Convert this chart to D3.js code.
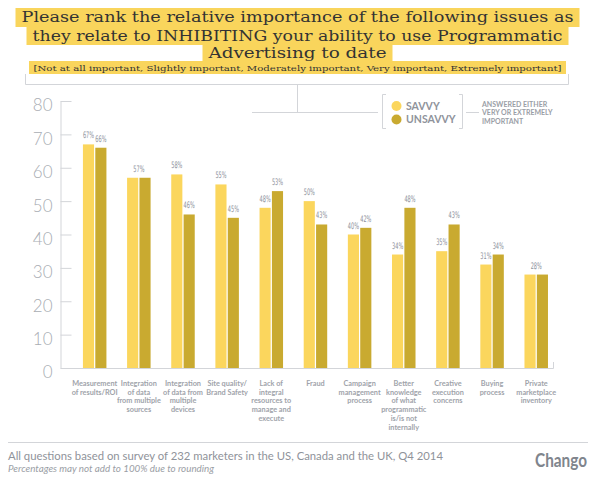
<!DOCTYPE html>
<html>
<head>
<meta charset="utf-8">
<script src="https://cdn.jsdelivr.net/npm/d3@7/dist/d3.min.js"></script>
<style>
  html, body { margin: 0; padding: 0; background: #fff; }
  svg { display: block; }
</style>
</head>
<body>
<svg id="chart" width="595" height="482"></svg>
<script>
// ---------------- DATA ----------------
const categories = [
  "Measurement of results/ROI",
  "Integration of data from multiple sources",
  "Integration of data from multiple devices",
  "Site quality/ Brand Safety",
  "Lack of integral resources to manage and execute",
  "Fraud",
  "Campaign management process",
  "Better knowledge of what programmatic is/is not internally",
  "Creative execution concerns",
  "Buying process",
  "Private marketplace inventory"
];
const categoryLines = [
  ["Measurement", "of results/ROI"],
  ["Integration", "of data", "from multiple", "sources"],
  ["Integration", "of data from", "multiple", "devices"],
  ["Site quality/", "Brand Safety"],
  ["Lack of", "integral", "resources to", "manage and", "execute"],
  ["Fraud"],
  ["Campaign", "management", "process"],
  ["Better", "knowledge", "of what", "programmatic", "is/is not", "internally"],
  ["Creative", "execution", "concerns"],
  ["Buying", "process"],
  ["Private", "marketplace", "inventory"]
];
const seriesNames = ["SAVVY", "UNSAVVY"];
const savvyValues   = [67, 57, 58, 55, 48, 50, 40, 34, 35, 31, 28];
const unsavvyValues = [66, 57, 46, 45, 53, 43, 42, 48, 43, 34, 28];
const yTicks = [0, 10, 20, 30, 40, 50, 60, 70, 80];
const titleLines = [
  "Please rank the relative importance of the following issues as",
  "they relate to INHIBITING your ability to use Programmatic",
  "Advertising to date"
];
const subtitleText = "[Not at all important, Slightly important, Moderately important, Very important, Extremely important]";
const legendNote = ["ANSWERED EITHER", "VERY OR EXTREMELY", "IMPORTANT"];
const footerText = "All questions based on survey of 232 marketers in the US, Canada and the UK, Q4 2014";
const footerNote = "Percentages may not add to 100% due to rounding";
const brand = "Chango";

// ---------------- STYLE ----------------
const colors = { SAVVY: "#fbd65d", UNSAVVY: "#c9aa30" };
const highlight = "#f9d55c";
const lineGray = "#d3d5d9";
const textGray = "#9a9ea6";
const sansFont = "Lato, 'Open Sans', 'DejaVu Sans', sans-serif";
const slabFont = "'DejaVu Serif', 'Liberation Serif', serif";

const svg = d3.select("#chart");

// ---------------- TITLE ----------------
const titleY = [22, 40.5, 58];
const titleWidths = [552, 530, 178];
const titleTops = [8, 27, 45];
const titleHeights = [19, 18, 16];
titleLines.forEach((t, i) => {
  const g = svg.append("g");
  const w = titleWidths[i] + 12;
  g.append("rect").attr("fill", highlight)
    .attr("x", 297.5 - w / 2).attr("y", titleTops[i]).attr("width", w).attr("height", titleHeights[i]);
  g.append("text")
    .attr("x", 297.5).attr("y", titleY[i])
    .attr("text-anchor", "middle")
    .attr("font-family", slabFont)
    .attr("font-size", 15)
    .attr("fill", "#333333")
    .attr("textLength", titleWidths[i])
    .attr("lengthAdjust", "spacingAndGlyphs")
    .text(t);
});
{
  const g = svg.append("g");
  g.append("rect").attr("fill", highlight)
    .attr("x", 29).attr("y", 61).attr("width", 537).attr("height", 13);
  g.append("text")
    .attr("x", 297.5).attr("y", 70.5)
    .attr("text-anchor", "middle")
    .attr("font-family", slabFont)
    .attr("font-size", 8.2)
    .attr("fill", "#333333")
    .attr("textLength", 528)
    .attr("lengthAdjust", "spacingAndGlyphs")
    .text(subtitleText);
}

// frame bracket under header & connector to legend
svg.append("path")
  .attr("d", "M25.5,74 V84.5 H568.5 V74")
  .attr("fill", "none").attr("stroke", lineGray).attr("stroke-width", 1);
svg.append("path")
  .attr("d", "M297.5,84.5 V112.5 M252,112.5 H378")
  .attr("fill", "none").attr("stroke", lineGray).attr("stroke-width", 1);

// ---------------- LEGEND ----------------
svg.append("path")
  .attr("d", "M386,94.5 H382.5 V128.5 H386 M459,94.5 H462.5 V128.5 H459 M466,112.5 H479")
  .attr("fill", "none").attr("stroke", lineGray).attr("stroke-width", 1);
const legendY = [106, 119.5];
seriesNames.forEach((s, i) => {
  svg.append("circle").attr("cx", 396.5).attr("cy", legendY[i]).attr("r", 5).attr("fill", colors[s]);
  svg.append("text").attr("x", 406).attr("y", legendY[i] + 3.8)
    .attr("font-family", sansFont).attr("font-weight", 700).attr("font-size", 10.5)
    .attr("fill", "#8f939b").text(s);
});
legendNote.forEach((t, i) => {
  svg.append("text").attr("x", 482).attr("y", 106.5 + i * 8.7)
    .attr("font-family", sansFont).attr("font-weight", 700).attr("font-size", 7)
    .attr("fill", textGray).text(t);
});

// ---------------- SCALES ----------------
const y = d3.scaleLinear().domain([0, 80]).range([368, 101]);
const x0 = d3.scaleBand().domain(categories).range([72.6, 558.3]).padding(0);
const innerW = 23.5;
const x1 = d3.scaleBand().domain(seriesNames).range([0, innerW]).paddingInner(0.1);
const groupOffset = (x0.bandwidth() - innerW) / 2;

// ---------------- AXIS ----------------
const yAxis = d3.axisLeft(y).tickValues(yTicks).tickSize(-11).tickSizeOuter(0).tickPadding(8);
const ag = svg.append("g").attr("transform", "translate(60.5,0)").call(yAxis);
ag.select(".domain").attr("stroke", lineGray);
ag.selectAll(".tick line").attr("stroke", lineGray);
ag.selectAll(".tick").filter(d => d === 0).select("line").remove();
ag.selectAll(".tick text")
  .attr("font-family", sansFont).attr("font-weight", 300).attr("font-size", 17)
  .attr("fill", "#a9adb3").attr("dy", "0.58em");

// baseline
svg.append("path")
  .attr("d", `M60.5,${y(0) + 0.5} H553.5 V${y(0) - 6}`)
  .attr("fill", "none").attr("stroke", lineGray).attr("stroke-width", 1);

// ---------------- BARS ----------------
const data = categories.map((c, i) => ({
  cat: c,
  values: [
    { key: "SAVVY", v: savvyValues[i] },
    { key: "UNSAVVY", v: unsavvyValues[i] }
  ]
}));

const groups = svg.append("g").selectAll("g").data(data).join("g")
  .attr("transform", d => `translate(${x0(d.cat) + groupOffset},0)`);

groups.selectAll("rect").data(d => d.values).join("rect")
  .attr("x", d => x1(d.key))
  .attr("y", d => y(d.v))
  .attr("width", x1.bandwidth())
  .attr("height", d => y(0) - y(d.v))
  .attr("fill", d => colors[d.key]);

// value labels (condensed by horizontal scaling)
const labelFont = "'DejaVu Sans Condensed', 'DejaVu Sans', sans-serif";
groups.each(function (d) {
  const g = d3.select(this);
  const [a, b] = d.values;
  const lab = (xc, v) => g.append("text")
    .attr("transform", `translate(${xc},${y(v) - 6}) scale(0.62,1)`)
    .attr("text-anchor", "middle")
    .attr("font-family", labelFont).attr("font-size", 9)
    .attr("fill", "#8d919b")
    .text(v + "%");
  if (a.v === b.v) {
    lab(innerW / 2, a.v);
  } else {
    lab(x1(a.key) + x1.bandwidth() / 2, a.v);
    lab(x1(b.key) + x1.bandwidth() / 2, b.v);
  }
});

// category labels
const cg = svg.append("g").selectAll("text").data(categories).join("text")
  .attr("x", d => x0(d) + x0.bandwidth() / 2)
  .attr("y", 386)
  .attr("text-anchor", "middle")
  .attr("font-family", sansFont).attr("font-weight", 700).attr("font-size", 7.3)
  .attr("fill", "#a0a3aa");
cg.each(function (d, i) {
  d3.select(this).selectAll("tspan").data(categoryLines[i]).join("tspan")
    .attr("x", x0(d) + x0.bandwidth() / 2)
    .attr("dy", (t, j) => j === 0 ? 0 : 8.7)
    .text(t => t);
});

// ---------------- FOOTER ----------------
svg.append("line").attr("x1", 8).attr("x2", 588).attr("y1", 442.5).attr("y2", 442.5)
  .attr("stroke", lineGray).attr("stroke-width", 1);
svg.append("text").attr("x", 8).attr("y", 460)
  .attr("font-family", sansFont).attr("font-size", 12)
  .attr("fill", "#8f939a")
  .attr("textLength", 435).attr("lengthAdjust", "spacingAndGlyphs")
  .text(footerText);
svg.append("text").attr("x", 8).attr("y", 472)
  .attr("font-family", sansFont).attr("font-style", "italic").attr("font-size", 9)
  .attr("fill", "#9a9ea5")
  .attr("textLength", 206).attr("lengthAdjust", "spacingAndGlyphs")
  .text(footerNote);
svg.append("text").attr("x", 587).attr("y", 467)
  .attr("text-anchor", "end")
  .attr("font-family", sansFont).attr("font-weight", 700).attr("font-size", 18)
  .attr("fill", "#80858d")
  .attr("textLength", 52).attr("lengthAdjust", "spacingAndGlyphs")
  .text(brand);
</script>
</body>
</html>
